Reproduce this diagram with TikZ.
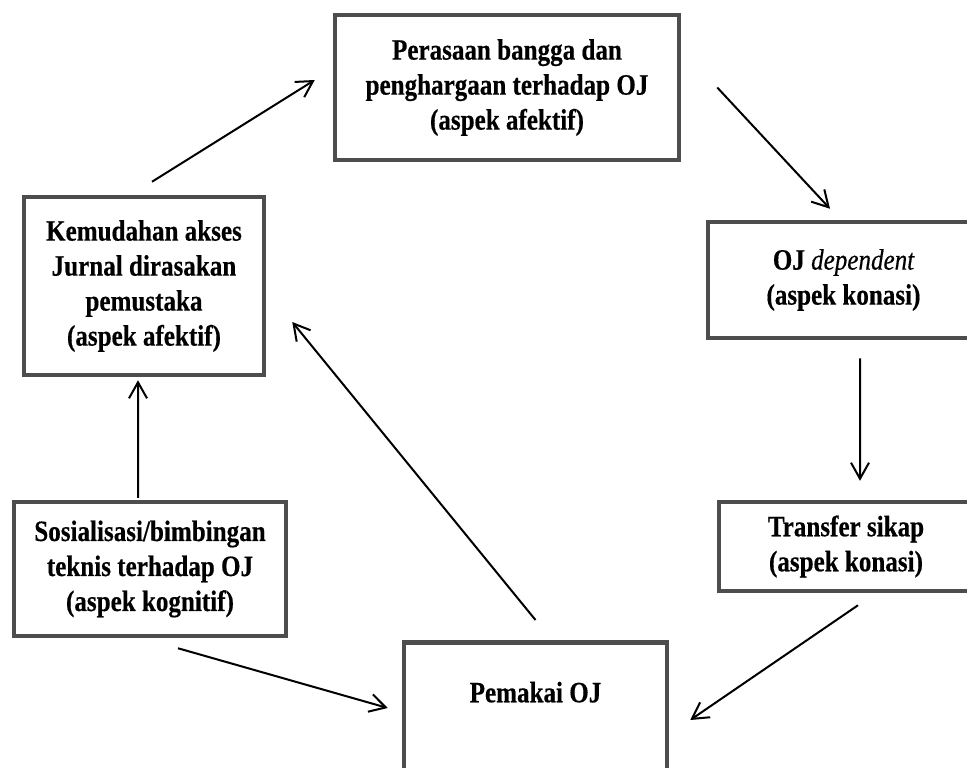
\documentclass[tikz,border=0pt]{standalone}
\usepackage{fontspec}
\usepackage{tikz}
\usetikzlibrary{arrows.meta}
\newfontfamily\diagfont{Liberation Serif}[FakeStretch=0.85,FakeBold=0.4]
\definecolor{boxline}{HTML}{4D4D4D}
\newcommand{\boxfont}{\diagfont\bfseries\fontsize{29.5bp}{35bp}\selectfont}

\begin{document}
\begin{tikzpicture}[x=1bp,y=-1bp,>={Straight Barb[length=16bp,width=18bp]},
    box/.style={draw=boxline,line width=4.5bp,fill=white,align=center,inner sep=0pt,font=\boxfont},
    arr/.style={->,line width=2bp,black}]
        \useasboundingbox (0,0) rectangle (967,768);
        \clip (0,0) rectangle (967,768);
        \node[box,minimum width=344bp,minimum height=145bp] (bangga) at (507,87.5) {Perasaan bangga dan\\penghargaan terhadap OJ\\(aspek afektif)};
        \node[box,minimum width=240bp,minimum height=178bp] (kemudahan) at (144,286) {Kemudahan akses\\Jurnal dirasakan\\pemustaka\\(aspek afektif)};
        \node[box,minimum width=271bp,minimum height=116bp] (dependent) at (843.5,280) {OJ {\mdseries\itshape dependent}\\(aspek konasi)};
        \node[box,minimum width=254bp,minimum height=89bp] (transfer) at (846,546.5) {Transfer sikap\\(aspek konasi)};
        \node[box,minimum width=272bp,minimum height=134bp] (sosialisasi) at (150,569) {Sosialisasi/bimbingan\\teknis terhadap OJ\\(aspek kognitif)};
        \node[box,anchor=north,minimum width=263bp,text height=60bp,text depth=100bp] (pemakai) at (535.5,640) {Pemakai OJ};
        % cycle of arrows
        \draw[arr] ([xshift=8bp,yshift=13bp]kemudahan.north) -- ([xshift=-18bp,yshift=7.5bp]bangga.west);
        \draw[arr] ([xshift=36bp]bangga.east) -- ([xshift=-13.5bp,yshift=11bp]dependent.north);
        \draw[arr] ([xshift=16.5bp,yshift=-18bp]dependent.south) -- ([xshift=14bp,yshift=19bp]transfer.north);
        \draw[arr] ([xshift=12bp,yshift=-12bp]transfer.south) -- ([xshift=21bp,yshift=-80bp]pemakai.north east);
        \draw[arr] ([xshift=28bp,yshift=-10bp]sosialisasi.south) -- ([xshift=-14bp,yshift=-68bp]pemakai.north west);
        \draw[arr] ([yshift=20bp]pemakai.north) -- ([xshift=26bp,yshift=-36bp]kemudahan.east);
        \draw[arr] ([xshift=-12bp,yshift=2bp]sosialisasi.north) -- ([xshift=-6bp,yshift=-3bp]kemudahan.south);
      \end{tikzpicture}
\end{document}
